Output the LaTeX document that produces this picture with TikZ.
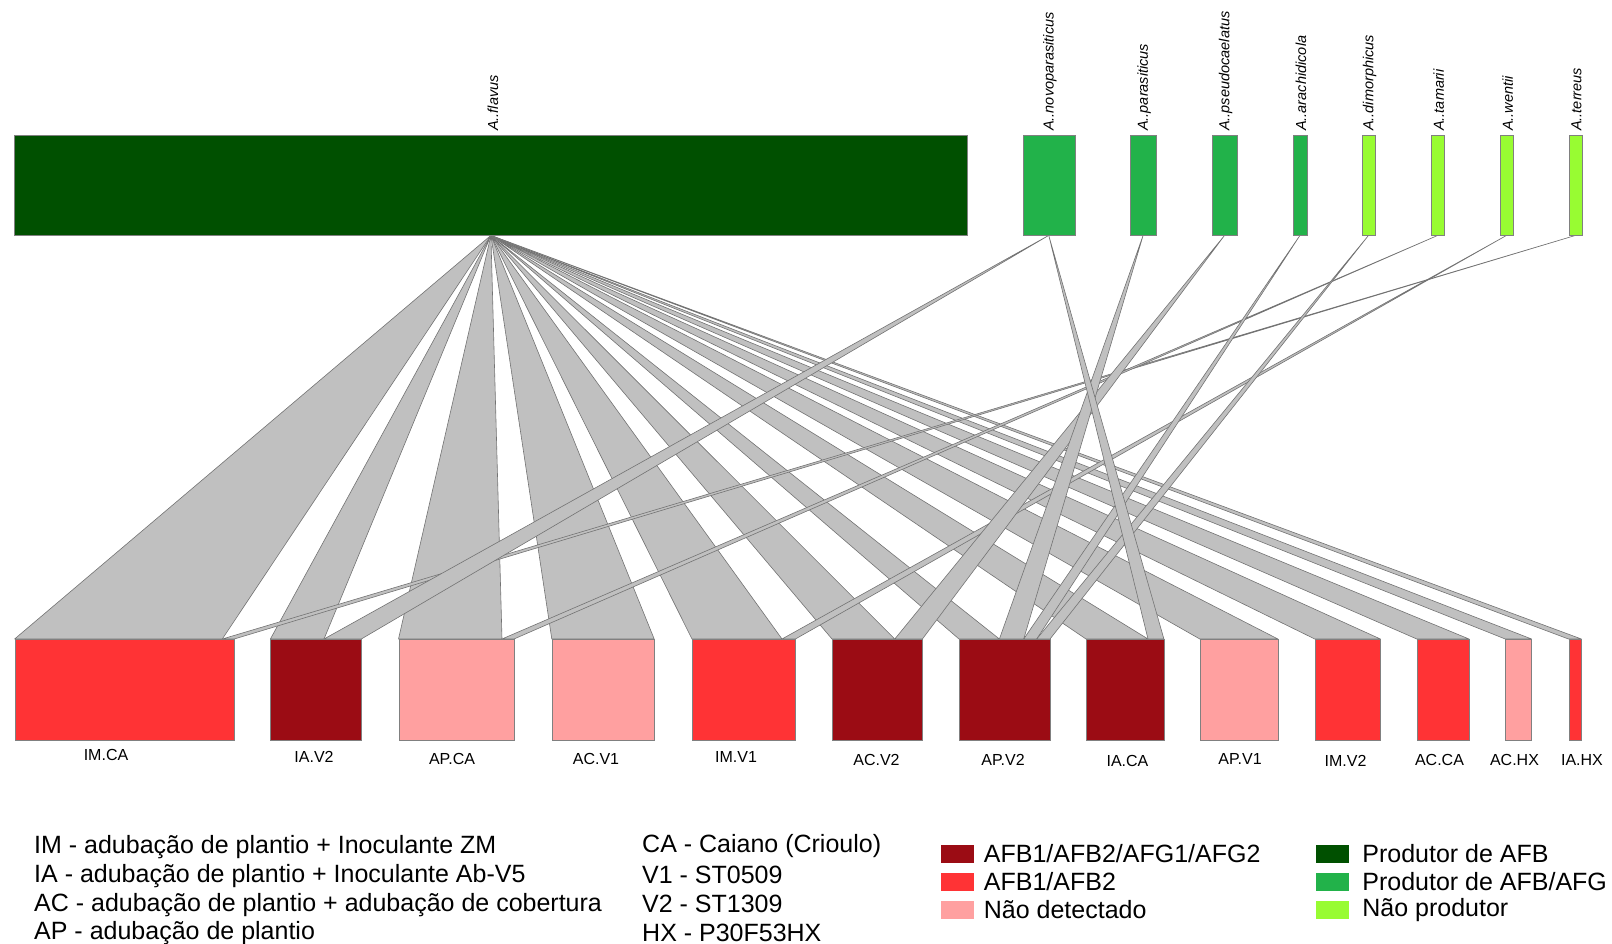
\documentclass[tikz,border=0pt]{standalone}
\usepackage{fontspec}
\setmainfont{Liberation Sans}
\usepackage{tikz}
\usepackage{xcolor}
\usetikzlibrary{positioning,backgrounds}
\definecolor{afbgreen}{RGB}{0,80,0}
\definecolor{afggreen}{RGB}{34,178,74}
\definecolor{nongreen}{RGB}{152,252,50}
\definecolor{allred}{RGB}{155,12,20}
\definecolor{afbred}{RGB}{255,51,53}
\definecolor{nonred}{RGB}{255,160,160}
\definecolor{linkgray}{RGB}{192,192,192}
\tikzset{
    web-box/.style = {draw=gray, thin, rectangle, inner sep=0pt, anchor=north west},
    top-box/.style = {web-box, minimum height=100pt},
    low-box/.style = {web-box, minimum height=101pt},
    web-link/.style = {fill=linkgray, draw=black!55, line width=0.6pt, line join=round},
    species-label/.style = {rotate=90, anchor=west, inner sep=0pt, font=\fontsize{14.5}{16}\selectfont\itshape},
    site-label/.style = {inner sep=0pt, font=\fontsize{16}{18}\selectfont},
    key-text/.style = {inner sep=0pt, anchor=west, font=\fontsize{25}{28}\selectfont},
    key-swatch/.style = {rectangle, minimum width=33pt, minimum height=18pt, inner sep=0pt},
}

\begin{document}
\begin{tikzpicture}[x=1pt, y=-1pt]
\useasboundingbox (0,0) rectangle (1612,944);

\node[top-box, fill=afbgreen, minimum width=952.6pt] (flavus) at (14.4,135) {};
\node[top-box, fill=afggreen, minimum width=51.9pt] (novopar) at (1022.6,135) {};
\node[top-box, fill=afggreen, minimum width=25.4pt] (parasit) at (1130.2,135) {};
\node[top-box, fill=afggreen, minimum width=25.3pt] (pseudo) at (1211.7,135) {};
\node[top-box, fill=afggreen, minimum width=13.9pt] (arachid) at (1292.8,135) {};
\node[top-box, fill=nongreen, minimum width=13.4pt] (dimorph) at (1361.6,135) {};
\node[top-box, fill=nongreen, minimum width=12.7pt] (tamarii) at (1431.2,135) {};
\node[top-box, fill=nongreen, minimum width=12.7pt] (wentii) at (1500,135) {};
\node[top-box, fill=nongreen, minimum width=13.1pt] (terreus) at (1568.8,135) {};

\node[species-label] (flavus-name) at ([xshift=2pt,yshift=4pt]flavus.north) {A..flavus};
\node[species-label] (novopar-name) at ([xshift=1pt,yshift=4pt]novopar.north) {A..novoparasiticus};
\node[species-label] (parasit-name) at ([xshift=1pt,yshift=4pt]parasit.north) {A..parasiticus};
\node[species-label] (pseudo-name) at ([xshift=1pt,yshift=4pt]pseudo.north) {A..pseudocaelatus};
\node[species-label] (arachid-name) at ([xshift=1pt,yshift=4pt]arachid.north) {A..arachidicola};
\node[species-label] (dimorph-name) at ([xshift=1pt,yshift=4pt]dimorph.north) {A..dimorphicus};
\node[species-label] (tamarii-name) at ([xshift=1pt,yshift=4pt]tamarii.north) {A..tamarii};
\node[species-label] (wentii-name) at ([xshift=1pt,yshift=4pt]wentii.north) {A..wentii};
\node[species-label] (terreus-name) at ([xshift=1pt,yshift=4pt]terreus.north) {A..terreus};

\node[low-box, fill=afbred, minimum width=219.2pt] (imca) at (14.6,639) {};
\node[low-box, fill=allred, minimum width=90.5pt] (iav2) at (270.4,639) {};
\node[low-box, fill=nonred, minimum width=115.1pt] (apca) at (398.5,639) {};
\node[low-box, fill=nonred, minimum width=102pt] (acv1) at (551.8,639) {};
\node[low-box, fill=afbred, minimum width=103pt] (imv1) at (692,639) {};
\node[low-box, fill=allred, minimum width=90pt] (acv2) at (832,639) {};
\node[low-box, fill=allred, minimum width=90.6pt] (apv2) at (959,639) {};
\node[low-box, fill=allred, minimum width=77.5pt] (iaca) at (1086,639) {};
\node[low-box, fill=nonred, minimum width=77.7pt] (apv1) at (1199.8,639) {};
\node[low-box, fill=afbred, minimum width=65.2pt] (imv2) at (1314.8,639) {};
\node[low-box, fill=afbred, minimum width=51.8pt] (acca) at (1416.8,639) {};
\node[low-box, fill=nonred, minimum width=25.9pt] (achx) at (1505.3,639) {};
\node[low-box, fill=afbred, minimum width=12.5pt] (iahx) at (1568.5,639) {};

\node[site-label] (imca-name) at (106,754.5) {IM.CA};
\node[site-label] (iav2-name) at (314,757) {IA.V2};
\node[site-label] (apca-name) at (452,759) {AP.CA};
\node[site-label] (acv1-name) at (596,759) {AC.V1};
\node[site-label] (imv1-name) at (736,757) {IM.V1};
\node[site-label] (acv2-name) at (876.5,760) {AC.V2};
\node[site-label] (apv2-name) at (1003,759.5) {AP.V2};
\node[site-label] (iaca-name) at (1127.5,761) {IA.CA};
\node[site-label] (apv1-name) at (1240,759) {AP.V1};
\node[site-label] (imv2-name) at (1345.5,761) {IM.V2};
\node[site-label] (acca-name) at (1439.5,759.5) {AC.CA};
\node[site-label] (achx-name) at (1514.5,759.5) {AC.HX};
\node[site-label] (iahx-name) at (1582,759.5) {IA.HX};

\coordinate (imca-cut) at (222.3,639);
\coordinate (iav2-cut) at (324,639);
\coordinate (apca-cut) at (502,639);
\coordinate (imv1-cut) at (782,639);
\coordinate (acv2-cut) at (894.8,639);
\coordinate (apv2-cut1) at (999.4,639);
\coordinate (apv2-cut2) at (1023.7,639);
\coordinate (apv2-cut3) at (1036.7,639);
\coordinate (iaca-cut) at (1148,639);

\begin{scope}[on background layer]
\foreach \src/\lft/\rgt in {flavus/imca.north west/imca-cut, flavus/iav2.north west/iav2-cut,
    flavus/apca.north west/apca-cut, flavus/acv1.north west/acv1.north east,
    flavus/imv1.north west/imv1-cut, flavus/acv2.north west/acv2-cut,
    flavus/apv2.north west/apv2-cut1, flavus/iaca.north west/iaca-cut,
    flavus/apv1.north west/apv1.north east, flavus/imv2.north west/imv2.north east,
    flavus/acca.north west/acca.north east, flavus/achx.north west/achx.north east,
    flavus/iahx.north west/iahx.north east,
    terreus/imca-cut/imca.north east, novopar/iav2-cut/iav2.north east,
    tamarii/apca-cut/apca.north east, wentii/imv1-cut/imv1.north east,
    pseudo/acv2-cut/acv2.north east, parasit/apv2-cut1/apv2-cut2,
    arachid/apv2-cut2/apv2-cut3, dimorph/apv2-cut3/apv2.north east,
    novopar/iaca-cut/iaca.north east}
    \path[web-link] (\src.south) -- (\lft) -- (\rgt) -- cycle;
\end{scope}

\node[key-text] (im-key) at (34,847.5) {IM - adubação de plantio + Inoculante ZM};
\node[key-text] (ia-key) at (34,876.5) {IA - adubação de plantio + Inoculante Ab-V5};
\node[key-text] (ac-key) at (34,905) {AC - adubação de plantio + adubação de cobertura};
\node[key-text] (ap-key) at (34,933.5) {AP - adubação de plantio};
\node[key-text] (ca-key) at (642,846) {CA - Caiano (Crioulo)};
\node[key-text] (v1-key) at (642,875) {V1 - ST0509};
\node[key-text] (v2-key) at (642,904) {V2 - ST1309};
\node[key-text] (hx-key) at (642,932.5) {HX - P30F53HX};

\node[key-swatch, fill=allred] (all-swatch) at (957,853.5) {};
\node[key-swatch, fill=afbred] (afb-swatch) at (957,881.8) {};
\node[key-swatch, fill=nonred] (none-swatch) at (957,909.7) {};
\node[key-text, right=10pt of all-swatch] (all-key) {AFB1/AFB2/AFG1/AFG2};
\node[key-text, right=10pt of afb-swatch] (afb-key) {AFB1/AFB2};
\node[key-text, right=10pt of none-swatch] (none-key) {Não detectado};

\node[key-swatch, fill=afbgreen] (prod-swatch) at (1332.5,853.5) {};
\node[key-swatch, fill=afggreen] (both-swatch) at (1332.5,881.8) {};
\node[key-swatch, fill=nongreen] (nonprod-swatch) at (1332.5,909.7) {};
\node[key-text, right=13pt of prod-swatch] (prod-key) {Produtor de AFB};
\node[key-text, right=13pt of both-swatch] (both-key) {Produtor de AFB/AFG};
\node[key-text, right=13pt of nonprod-swatch] (nonprod-key) {Não produtor};
\end{tikzpicture}
\end{document}
